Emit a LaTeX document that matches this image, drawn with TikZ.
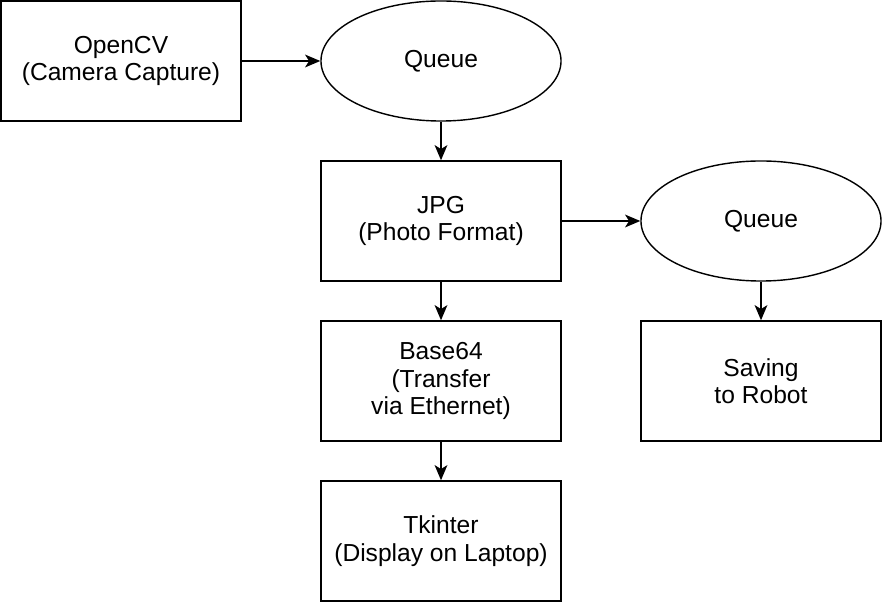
\documentclass[tikz,border=0pt]{standalone}
\usepackage{fontspec}
\setmainfont{Liberation Sans}
\usetikzlibrary{positioning}
\usetikzlibrary{arrows.meta,shapes}
\tikzstyle{block}=[rectangle,draw,line width=1pt,minimum width=6cm,minimum height=3cm,inner sep=0pt,align=center,font=\fontsize{17.5}{19.6}\selectfont]
\tikzstyle{queue}=[ellipse,draw,line width=1pt,minimum width=6cm,minimum height=3cm,inner sep=0pt,align=center,font=\fontsize{17.5}{19.6}\selectfont]
\tikzstyle{edge} = [draw,line width=1pt,-{Stealth[length=0.38cm,width=0.32cm,inset=0.1cm]}]

\begin{document}
\begin{tikzpicture}[x=0.025cm,y=-0.025cm]
    \useasboundingbox (0,0) rectangle (882,602);

    \foreach \pos/\name/\text in {{(121,61)/opencv/OpenCV\\(Camera Capture)}, {(441,221)/jpg/JPG\\(Photo Format)}, {(441,381)/base/Base64\\(Transfer\\via Ethernet)}, {(761,381)/saving/Saving\\to Robot}, {(441,541)/tkinter/Tkinter\\(Display on Laptop)}}
        \node[block] (\name) at \pos {\text};

    \foreach \pos/\name in {{(441,61)/queueA}, {(761,221)/queueB}}
        \node[queue] (\name) at \pos {Queue};

    \foreach \source/\dest in {opencv.east/queueA.west, queueA.south/jpg.north, jpg.east/queueB.west, jpg.south/base.north, queueB.south/saving.north, base.south/tkinter.north}
        \path[edge] (\source) -- (\dest);

\end{tikzpicture}
\end{document}
